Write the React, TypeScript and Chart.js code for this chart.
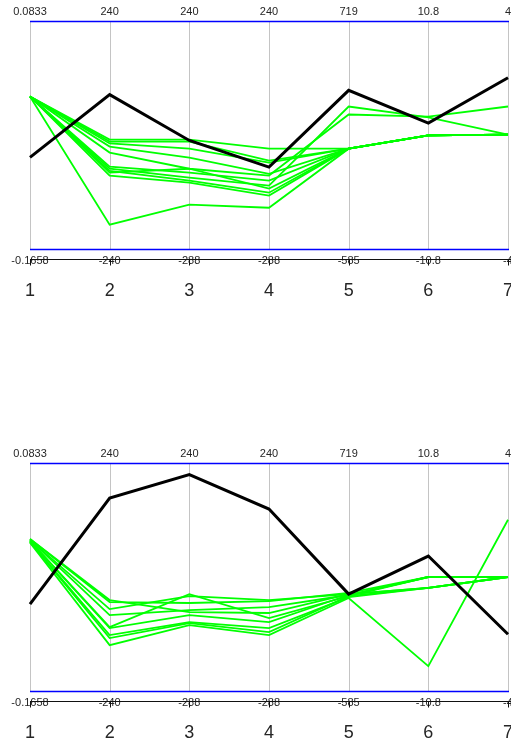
import React, { useEffect, useRef } from "react";
import { Chart, registerables } from "chart.js";

Chart.register(...registerables);

const categories = ["1", "2", "3", "4", "5", "6", "7"];
const topLabels = ["0.0833", "240", "240", "240", "719", "10.8", "4"];
const bottomLabels = ["-0.1658", "-240", "-288", "-288", "-585", "-10.8", "-4"];

// normalized position on each axis (0 = bottom, 1 = top)
const blackTop = [0.402, 0.677, 0.476, 0.359, 0.696, 0.552, 0.751];
const greensTop = [
  [0.669, 0.48, 0.48, 0.44, 0.44, 0.498, 0.502],
  [0.669, 0.471, 0.471, 0.388, 0.44, 0.498, 0.502],
  [0.669, 0.463, 0.44, 0.379, 0.44, 0.498, 0.502],
  [0.669, 0.449, 0.401, 0.33, 0.44, 0.498, 0.502],
  [0.669, 0.423, 0.352, 0.322, 0.59, 0.581, 0.625],
  [0.669, 0.361, 0.335, 0.3, 0.44, 0.498, 0.502],
  [0.669, 0.352, 0.313, 0.278, 0.625, 0.577, 0.502],
  [0.669, 0.335, 0.352, 0.265, 0.44, 0.498, 0.502],
  [0.669, 0.322, 0.291, 0.234, 0.44, 0.498, 0.502],
  [0.669, 0.107, 0.195, 0.181, 0.44, 0.498, 0.502],
  [0.669, 0.343, 0.3, 0.247, 0.44, 0.498, 0.502],
];

const blackBottom = [0.381, 0.846, 0.949, 0.798, 0.425, 0.592, 0.249];
const greensBottom = [
  [0.667, 0.399, 0.346, 0.342, 0.425, 0.452, 0.5],
  [0.667, 0.39, 0.386, 0.394, 0.43, 0.5, 0.5],
  [0.663, 0.359, 0.416, 0.399, 0.425, 0.452, 0.5],
  [0.663, 0.333, 0.355, 0.368, 0.421, 0.5, 0.5],
  [0.658, 0.28, 0.425, 0.32, 0.416, 0.452, 0.5],
  [0.658, 0.276, 0.333, 0.302, 0.421, 0.5, 0.5],
  [0.654, 0.245, 0.302, 0.276, 0.412, 0.452, 0.5],
  [0.654, 0.232, 0.298, 0.258, 0.416, 0.5, 0.5],
  [0.65, 0.201, 0.289, 0.245, 0.408, 0.109, 0.751],
];

const FONT = "'Liberation Sans', Arial, sans-serif";

const parallelPlugin = {
  id: "parallelAxes",
  beforeDatasetsDraw(chart: any) {
    const { ctx, chartArea, scales } = chart;
    const x = scales.x;
    ctx.save();
    ctx.strokeStyle = "#c4c4c4";
    ctx.lineWidth = 1;
    categories.forEach((_, i) => {
      const px = Math.round(x.getPixelForValue(i)) + 0.5;
      ctx.beginPath();
      ctx.moveTo(px, chartArea.top);
      ctx.lineTo(px, chartArea.bottom);
      ctx.stroke();
    });
    ctx.strokeStyle = "#0000ff";
    ctx.lineWidth = 1.4;
    const x0 = x.getPixelForValue(0);
    const x1 = x.getPixelForValue(categories.length - 1);
    [chartArea.top, chartArea.bottom].forEach((yy: number) => {
      ctx.beginPath();
      ctx.moveTo(x0, Math.round(yy) + 0.5);
      ctx.lineTo(x1 + 1, Math.round(yy) + 0.5);
      ctx.stroke();
    });
    ctx.restore();
  },
  afterDatasetsDraw(chart: any) {
    const { ctx, chartArea, scales } = chart;
    const x = scales.x;
    ctx.save();
    ctx.textAlign = "center";
    ctx.textBaseline = "middle";
    ctx.fillStyle = "#262626";
    ctx.font = `11px ${FONT}`;
    categories.forEach((_, i) => {
      const px = x.getPixelForValue(i);
      ctx.fillText(topLabels[i], px, chartArea.top - 9.5);
      ctx.fillText(bottomLabels[i], px, chartArea.bottom + 12);
    });
    // black axis line with ticks
    const axisY = Math.round(chartArea.bottom + 10) + 0.5;
    ctx.strokeStyle = "#111";
    ctx.lineWidth = 1;
    ctx.beginPath();
    ctx.moveTo(x.getPixelForValue(0), axisY);
    ctx.lineTo(chart.width, axisY);
    ctx.stroke();
    categories.forEach((_, i) => {
      const px = Math.round(x.getPixelForValue(i)) + 0.5;
      ctx.beginPath();
      ctx.moveTo(px, axisY);
      ctx.lineTo(px, axisY + 6);
      ctx.stroke();
    });
    ctx.font = `18px ${FONT}`;
    ctx.fillStyle = "#262626";
    categories.forEach((c, i) => {
      ctx.fillText(c, x.getPixelForValue(i), chartArea.bottom + 42);
    });
    ctx.restore();
  },
};

function ParallelChart({ black, greens, top }: { black: number[]; greens: number[][]; top: number }) {
  const ref = useRef<HTMLCanvasElement | null>(null);
  useEffect(() => {
    if (!ref.current) return;
    const datasets: any[] = [
      {
        data: black,
        borderColor: "#000000",
        borderWidth: 3,
        pointRadius: 0,
        tension: 0,
        clip: false,
      },
      ...greens.map((g) => ({
        data: g,
        borderColor: "#00ff00",
        borderWidth: 1.8,
        pointRadius: 0,
        tension: 0,
        clip: false,
      })),
    ];
    const chart = new Chart(ref.current, {
      type: "line",
      data: { labels: categories, datasets },
      options: {
        responsive: false,
        animation: false,
        devicePixelRatio: 1,
        layout: { padding: { left: 30, right: 3, top: 21, bottom: 53 } },
        plugins: { legend: { display: false }, tooltip: { enabled: false } },
        scales: {
          x: { type: "category", display: false, offset: false },
          y: { type: "linear", display: false, min: 0, max: 1 },
        },
      },
      plugins: [parallelPlugin],
    });
    return () => chart.destroy();
  }, [black, greens]);
  return (
    <canvas
      ref={ref}
      width={511}
      height={302}
      style={{ position: "absolute", left: 0, top, width: 511, height: 302 }}
    />
  );
}

export default function App() {
  return (
    <div style={{ position: "relative", width: 511, height: 744 }}>
      <div style={{ position: "fixed", left: 0, top: 0, width: 511, height: 744, background: "#fff" }}>
        <ParallelChart black={blackTop} greens={greensTop} top={0} />
        <ParallelChart black={blackBottom} greens={greensBottom} top={442} />
      </div>
    </div>
  );
}
